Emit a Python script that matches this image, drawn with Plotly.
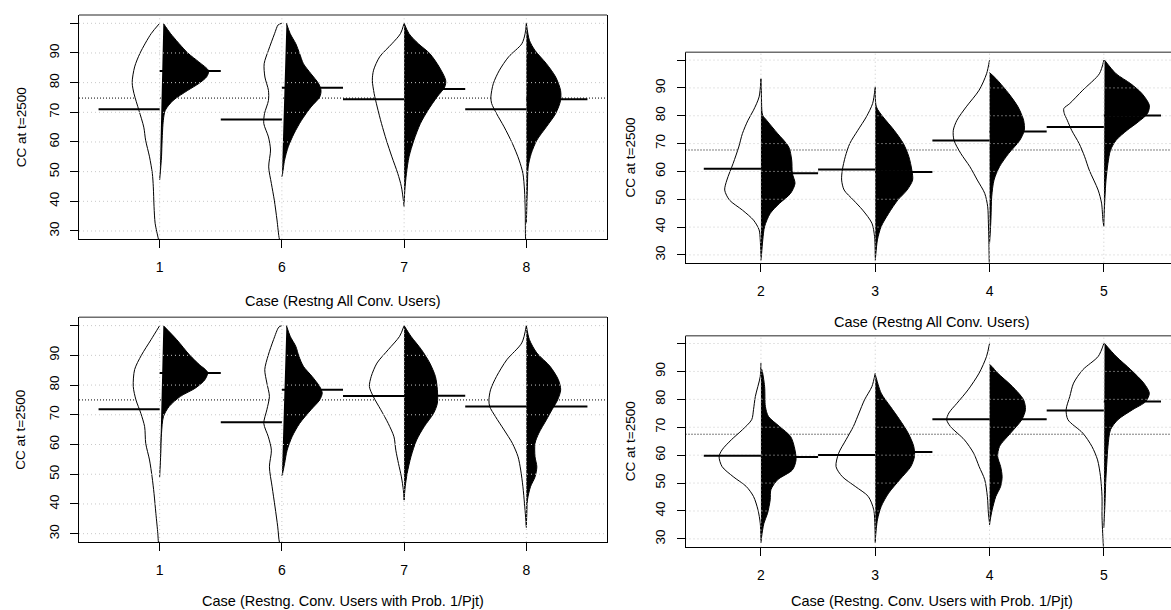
import plotly.graph_objects as go

W, H = 1171, 610

# ---------------- data ----------------
tl_cases = ["1", "6", "7", "8"]
tr_cases = ["2", "3", "4", "5"]
bl_cases = ["1", "6", "7", "8"]
br_cases = ["2", "3", "4", "5"]
y_ticks = [30, 40, 50, 60, 70, 80, 90, 100]
y_ticklabels = ["30", "40", "50", "60", "70", "80", "90", ""]
top_xtitle = "Case (Restng All Conv. Users)"
bottom_xtitle = "Case (Restng. Conv. Users with Prob. 1/Pjt)"
ytitle = "CC at t=2500"

# top-left panel: left (open) half-beans
tl_open_v = [
    [100, 96.5, 90, 85.3, 80, 76.3, 70.7, 65, 60.6, 55, 49.4, 44.9, 38.2, 32.6, 27.2, 25],
    [100, 99.5, 96.5, 90.9, 86.4, 81.9, 77.4, 74, 69.6, 66.2, 61.7, 57.3, 51.6, 46, 40.4, 33.7, 27.2, 25],
    [100, 96.5, 93.1, 88.7, 84.2, 80.8, 76.3, 71.8, 66.2, 60.6, 55, 49.4, 44.9, 38.2],
    [100, 96.5, 93.1, 88.7, 84.2, 79.7, 75.2, 73, 69.6, 65.1, 59.5, 53.9, 49.4, 43.8, 37.1, 27.2, 25],
]
tl_open_w = [
    [0, 0.07, 0.16, 0.205, 0.225, 0.21, 0.17, 0.13, 0.115, 0.083, 0.06, 0.052, 0.046, 0.037, 0.01, 0],
    [0, 0.03, 0.06, 0.11, 0.145, 0.139, 0.11, 0.11, 0.142, 0.148, 0.11, 0.093, 0.108, 0.086, 0.062, 0.04, 0.02, 0],
    [0, 0.03, 0.1, 0.2, 0.25, 0.26, 0.245, 0.22, 0.185, 0.145, 0.1, 0.052, 0.022, 0],
    [0, 0.01, 0.037, 0.145, 0.22, 0.27, 0.29, 0.284, 0.244, 0.182, 0.114, 0.059, 0.028, 0.015, 0.009, 0.006, 0],
]
tl_fill_v = [
    [100, 96.5, 90, 87, 84, 82, 79.7, 77.4, 74, 70.7, 67.3, 60.6, 55, 47.2],
    [100, 96.5, 93.1, 89.8, 86.4, 83, 79.7, 77.4, 75.2, 71.8, 67.3, 62.9, 58.4, 53.9, 49.4, 48.3],
    [100, 96.5, 93.1, 89.8, 85.3, 80.8, 78.6, 75.2, 70.7, 66.2, 60.6, 55, 49.4, 43.8, 39.3],
    [100, 94.3, 90.9, 86.4, 81.9, 77.4, 74, 69.6, 65.1, 60.6, 56.1, 51.6, 44.9, 38.2, 32.6],
]
tl_fill_w = [
    [0.03, 0.09, 0.23, 0.32, 0.40, 0.385, 0.32, 0.23, 0.11, 0.046, 0.03, 0.02, 0.015, 0],
    [0.037, 0.068, 0.114, 0.145, 0.176, 0.238, 0.3, 0.32, 0.31, 0.238, 0.16, 0.1, 0.052, 0.022, 0.006, 0],
    [0, 0.04, 0.117, 0.21, 0.287, 0.34, 0.333, 0.27, 0.195, 0.133, 0.08, 0.04, 0.019, 0.006, 0],
    [0, 0.025, 0.07, 0.164, 0.24, 0.28, 0.28, 0.24, 0.164, 0.086, 0.04, 0.015, 0.009, 0.004, 0],
]
tl_open_mean = [71.0, 67.6, 74.4, 71.0]
tl_fill_mean = [83.9, 78.3, 77.9, 74.4]
tl_overall = 74.8

# bottom-left panel
bl_open_v = [
    [100, 95.3, 90, 85.2, 79.5, 75, 70.5, 66, 60.4, 54.8, 49.1, 43.5, 36.8, 30, 27.1, 25],
    [100, 99.5, 95.3, 90, 85.2, 80.7, 76.2, 71.7, 67.1, 62.6, 58.1, 52.5, 45.8, 39, 32.3, 27.1, 25],
    [100, 96.4, 91.9, 87.4, 82.9, 79.5, 76.2, 71.7, 67.1, 62.6, 58.1, 53.6, 49.1, 44.6, 41.3],
    [100, 94.2, 88.5, 82.9, 78.4, 75, 72.8, 69.4, 64.9, 60.4, 55.9, 51.4, 45.8, 40.1, 35.6, 32],
]
bl_open_w = [
    [0, 0.07, 0.15, 0.205, 0.216, 0.194, 0.154, 0.123, 0.114, 0.083, 0.062, 0.046, 0.031, 0.015, 0.01, 0],
    [0, 0.025, 0.068, 0.112, 0.14, 0.123, 0.102, 0.123, 0.148, 0.111, 0.086, 0.102, 0.08, 0.056, 0.034, 0.02, 0],
    [0, 0.037, 0.13, 0.222, 0.269, 0.284, 0.253, 0.191, 0.13, 0.083, 0.068, 0.046, 0.022, 0.006, 0],
    [0, 0.037, 0.16, 0.244, 0.293, 0.306, 0.3, 0.253, 0.182, 0.114, 0.068, 0.046, 0.028, 0.015, 0.006, 0],
]
bl_fill_v = [
    [100, 95.3, 90, 86.9, 84.3, 81.8, 79, 76.2, 72.8, 69.4, 63.8, 57, 49.1],
    [100, 96.4, 93, 89.7, 86.3, 82.9, 79.5, 77.3, 75, 71.7, 67.1, 62.6, 58.1, 53.6, 50.3, 49.5],
    [100, 96.4, 91.9, 87.4, 82.9, 78.4, 73.9, 70.5, 66, 61.5, 55.9, 50.3, 45.8, 41.3],
    [100, 95.3, 90.8, 86.3, 81.8, 78.4, 75, 71.7, 68.3, 63.8, 60.4, 55.9, 52.5, 49.1, 45.8, 41.3, 36.8, 32.8],
]
bl_fill_w = [
    [0.03, 0.139, 0.247, 0.324, 0.392, 0.37, 0.293, 0.17, 0.077, 0.031, 0.015, 0.009, 0],
    [0.037, 0.068, 0.114, 0.139, 0.176, 0.247, 0.309, 0.33, 0.309, 0.238, 0.145, 0.083, 0.043, 0.022, 0.006, 0],
    [0, 0.056, 0.142, 0.21, 0.256, 0.272, 0.272, 0.241, 0.164, 0.102, 0.056, 0.025, 0.009, 0],
    [0, 0.025, 0.086, 0.194, 0.262, 0.281, 0.256, 0.21, 0.164, 0.102, 0.071, 0.071, 0.086, 0.071, 0.034, 0.009, 0.004, 0],
]
bl_open_mean = [71.9, 67.5, 76.3, 72.8]
bl_fill_mean = [84.1, 78.4, 76.4, 72.8]
bl_overall = 75.0

# top-right panel
tr_open_v = [
    [93.3, 86.8, 82, 78.4, 73.6, 68.8, 62.9, 56.9, 53.3, 49.7, 46.1, 42.5, 39, 35.4, 29.4],
    [90.4, 84.4, 79.6, 74.8, 70, 65.3, 60.5, 56.9, 53.3, 49.7, 46.1, 41.4, 36.6, 29],
    [100, 95.1, 89.2, 83.2, 78.4, 74.8, 71.2, 66.5, 61.7, 56.9, 52.1, 47.3, 41.4, 35.4, 28.2, 25],
    [100, 95.1, 89.2, 84.4, 82.6, 80.8, 78.4, 74.8, 70, 65.3, 60.5, 53.3, 48.6, 42.5, 40.2],
]
tr_open_w = [
    [0, 0.016, 0.065, 0.113, 0.162, 0.194, 0.243, 0.298, 0.317, 0.275, 0.162, 0.065, 0.016, 0.006, 0],
    [0, 0.023, 0.078, 0.152, 0.223, 0.262, 0.288, 0.294, 0.272, 0.191, 0.11, 0.029, 0.006, 0],
    [0, 0.026, 0.091, 0.204, 0.285, 0.317, 0.311, 0.252, 0.172, 0.107, 0.042, 0.016, 0.01, 0.006, 0.003, 0],
    [0, 0.039, 0.184, 0.298, 0.35, 0.346, 0.32, 0.282, 0.216, 0.168, 0.128, 0.05, 0.02, 0.008, 0],
]
tr_fill_v = [
    [93.3, 88, 82, 80.2, 78.4, 73.6, 68.8, 64.1, 59.3, 55.7, 52.1, 48.5, 44.9, 40.2, 35.4, 30.6, 28],
    [90, 83.2, 79.6, 74.8, 70, 65.3, 60.5, 56.9, 53.3, 49.7, 44.9, 40.2, 35.4, 30.6, 28],
    [95.5, 94, 92.7, 87.96, 83.2, 78.4, 74.8, 71.2, 66.5, 61.7, 56.9, 50.9, 43.7, 37.8, 34.2],
    [100, 95.1, 91.5, 88, 83.8, 80.8, 77.8, 74.8, 71.2, 67.6, 62.9, 56.9, 50.9, 44.9, 40.5],
]
tr_fill_w = [
    [0, 0.004, 0.008, 0.015, 0.049, 0.146, 0.243, 0.269, 0.275, 0.298, 0.259, 0.162, 0.081, 0.032, 0.016, 0.006, 0],
    [0, 0.01, 0.068, 0.165, 0.246, 0.294, 0.32, 0.327, 0.278, 0.197, 0.117, 0.052, 0.019, 0.006, 0],
    [0, 0.04, 0.071, 0.168, 0.249, 0.298, 0.304, 0.265, 0.168, 0.087, 0.039, 0.019, 0.013, 0.006, 0],
    [0.006, 0.107, 0.236, 0.333, 0.398, 0.382, 0.301, 0.204, 0.107, 0.058, 0.036, 0.019, 0.01, 0.003, 0],
]
tr_open_mean = [61.0, 60.7, 71.1, 76.0]
tr_fill_mean = [59.3, 59.8, 74.3, 80.1]
tr_overall = 67.7

# bottom-right panel
br_open_v = [
    [93, 88.2, 81, 76.3, 72.7, 69.1, 65.5, 61.9, 59.5, 55.9, 52.3, 48.8, 45.2, 40.4, 35.6, 29.5],
    [89.4, 84.6, 79.8, 75.1, 70.3, 65.5, 60.7, 55.9, 52.3, 48.8, 45.2, 40.4, 34.4, 29],
    [100, 95.4, 89.4, 83.4, 78.6, 75.1, 72.7, 70.3, 65.5, 60.7, 55.9, 51.2, 45.2, 39.2, 35.6],
    [100, 95.4, 90.6, 85.8, 81, 76.3, 72.7, 67.9, 63.1, 58.3, 52.3, 45.2, 38, 32, 27.3, 25],
]
br_open_w = [
    [0, 0.006, 0.049, 0.065, 0.081, 0.162, 0.259, 0.34, 0.366, 0.34, 0.243, 0.129, 0.065, 0.026, 0.006, 0],
    [0, 0.029, 0.094, 0.142, 0.191, 0.256, 0.32, 0.343, 0.288, 0.175, 0.061, 0.013, 0.003, 0],
    [0, 0.026, 0.091, 0.188, 0.285, 0.356, 0.375, 0.343, 0.22, 0.139, 0.091, 0.042, 0.019, 0.01, 0],
    [0, 0.049, 0.184, 0.265, 0.298, 0.33, 0.314, 0.184, 0.104, 0.055, 0.029, 0.016, 0.016, 0.01, 0.004, 0],
]
br_fill_v = [
    [91, 90.6, 84.6, 77.4, 73.9, 70.3, 66.7, 63.1, 58.3, 54.7, 51.2, 47.6, 44, 39.2, 35.6, 30.8, 28.5],
    [89, 88.2, 82.2, 77.4, 72.7, 67.9, 63.1, 59.5, 55.9, 51.2, 46.4, 41.6, 36.8, 30.8, 28.5],
    [92.5, 91.8, 89.4, 84.6, 79.8, 76.3, 72.7, 67.9, 63.1, 59.5, 55.9, 52.3, 48.8, 45.2, 40.4, 36.8, 35],
    [100, 95.4, 90.6, 85.8, 82.2, 79.2, 76.3, 72.7, 69.1, 63.1, 57.1, 50, 42.8, 36.8, 34],
]
br_fill_w = [
    [0, 0.008, 0.032, 0.039, 0.065, 0.162, 0.259, 0.291, 0.307, 0.275, 0.146, 0.087, 0.081, 0.058, 0.026, 0.006, 0],
    [0, 0.005, 0.052, 0.133, 0.214, 0.288, 0.337, 0.343, 0.311, 0.214, 0.117, 0.052, 0.019, 0.003, 0],
    [0, 0.02, 0.071, 0.2, 0.298, 0.314, 0.282, 0.184, 0.087, 0.071, 0.097, 0.11, 0.097, 0.055, 0.023, 0.006, 0],
    [0.006, 0.107, 0.236, 0.35, 0.398, 0.366, 0.252, 0.123, 0.058, 0.036, 0.026, 0.016, 0.01, 0.003, 0],
]
br_open_mean = [59.8, 60.1, 72.9, 76.0]
br_fill_mean = [59.3, 61.1, 72.9, 79.2]
br_overall = 67.5

# ---------------- layout geometry (pixels) ----------------
Y_RANGE = [27.2, 102.8]
LEFT_XR = [0.34, 4.66]
RIGHT_XR = [0.34, 0.34 + (1171 - 685.5) / 114.3]

panels = [
    dict(s="", x0=79, x1=607, y0=15, y1=239.3, xr=LEFT_XR, box=True, cases=tl_cases,
         ov=tl_open_v, ow=tl_open_w, fv=tl_fill_v, fw=tl_fill_w,
         om=tl_open_mean, fm=tl_fill_mean, overall=tl_overall, xt=top_xtitle, ty=301, yt_x=21),
    dict(s="2", x0=685.5, x1=1171, y0=52.3, y1=262.7, xr=RIGHT_XR, box=False, cases=tr_cases,
         ov=tr_open_v, ow=tr_open_w, fv=tr_fill_v, fw=tr_fill_w,
         om=tr_open_mean, fm=tr_fill_mean, overall=tr_overall, xt=top_xtitle, ty=321.5, yt_x=630),
    dict(s="3", x0=79, x1=607, y0=317.3, y1=542, xr=LEFT_XR, box=True, cases=bl_cases,
         ov=bl_open_v, ow=bl_open_w, fv=bl_fill_v, fw=bl_fill_w,
         om=bl_open_mean, fm=bl_fill_mean, overall=bl_overall, xt=bottom_xtitle, ty=601, yt_x=21),
    dict(s="4", x0=685.5, x1=1171, y0=335.7, y1=546.7, xr=RIGHT_XR, box=False, cases=br_cases,
         ov=br_open_v, ow=br_open_w, fv=br_fill_v, fw=br_fill_w,
         om=br_open_mean, fm=br_fill_mean, overall=br_overall, xt=bottom_xtitle, ty=601, yt_x=630),
]

FONT = "Liberation Sans, Arial, Helvetica, sans-serif"
fig = go.Figure()
annotations = []
shapes = []
layout_axes = {}

for p in panels:
    xa, ya = "x" + p["s"], "y" + p["s"]
    xr = p["xr"]
    ppu = (p["x1"] - p["x0"]) / (xr[1] - xr[0])
    # overall mean line (dotted)
    fig.add_trace(go.Scatter(x=[xr[0], xr[1]], y=[p["overall"]] * 2, mode="lines",
                             line=dict(color="black", width=1, dash="1px,2px"),
                             xaxis=xa, yaxis=ya, hoverinfo="skip"))
    for i, c in enumerate(p["cases"]):
        pos = i + 1
        fig.add_trace(go.Scatter(x=[pos - w for w in p["ow"][i]], y=p["ov"][i], mode="lines",
                                 fill="toself", fillcolor="white",
                                 line=dict(color="black", width=1, shape="spline", smoothing=0.8),
                                 xaxis=xa, yaxis=ya, hoverinfo="skip"))
        fig.add_trace(go.Scatter(x=[pos + w for w in p["fw"][i]], y=p["fv"][i], mode="lines",
                                 fill="toself", fillcolor="black",
                                 line=dict(color="black", width=1, shape="spline", smoothing=0.8),
                                 xaxis=xa, yaxis=ya, hoverinfo="skip"))
    # grid on top (dotted light grey)
    gx, gy = [], []
    for t in y_ticks:
        gx += [xr[0], xr[1], None]
        gy += [t, t, None]
    for i in range(len(p["cases"])):
        gx += [i + 1, i + 1, None]
        gy += [Y_RANGE[0], Y_RANGE[1], None]
    fig.add_trace(go.Scatter(x=gx, y=gy, mode="lines",
                             line=dict(color="#c8c8c8", width=1, dash="1px,3px"),
                             xaxis=xa, yaxis=ya, hoverinfo="skip"))
    # group mean lines
    for i in range(len(p["cases"])):
        pos = i + 1
        fig.add_trace(go.Scatter(x=[pos - 0.5, pos], y=[p["om"][i]] * 2, mode="lines",
                                 line=dict(color="black", width=2), xaxis=xa, yaxis=ya, hoverinfo="skip"))
        fig.add_trace(go.Scatter(x=[pos, pos + 0.5], y=[p["fm"][i]] * 2, mode="lines",
                                 line=dict(color="black", width=2), xaxis=xa, yaxis=ya, hoverinfo="skip"))

    # grey top border of the frame
    shapes.append(dict(type="line", xref="paper", yref="paper",
                       x0=p["x0"] / W, x1=p["x1"] / W, y0=1 - p["y0"] / H, y1=1 - p["y0"] / H,
                       line=dict(color="#6e6e6e", width=1.5), layer="above"))

    xkey = "xaxis" + p["s"]
    ykey = "yaxis" + p["s"]
    layout_axes[xkey] = dict(
        domain=[p["x0"] / W, p["x1"] / W], range=xr, anchor=ya,
        tickmode="array", tickvals=[1, 2, 3, 4], ticktext=p["cases"],
        ticks="outside", ticklen=8, tickcolor="black", tickwidth=1,
        ticklabelstandoff=7,
        showline=True, linecolor="black", linewidth=1, mirror=False,
        showgrid=False, zeroline=False, fixedrange=True,
        tickfont=dict(family=FONT, size=14, color="black"),
    )
    layout_axes[ykey] = dict(
        domain=[1 - p["y1"] / H, 1 - p["y0"] / H], range=Y_RANGE, anchor=xa,
        tickmode="array", tickvals=y_ticks, ticktext=y_ticklabels, tickangle=-90,
        ticks="outside", ticklen=8, tickcolor="black", tickwidth=1,
        ticklabelstandoff=6,
        showline=True, linecolor="black", linewidth=1, mirror=p["box"],
        showgrid=False, zeroline=False, fixedrange=True,
        tickfont=dict(family=FONT, size=13.5, color="black"),
    )
    annotations.append(dict(text=p["xt"], xref="paper", yref="paper",
                            x=(p["x0"] + (2.5 - xr[0]) * ppu) / W,
                            y=1 - p["ty"] / H, xanchor="center", yanchor="middle", showarrow=False,
                            font=dict(family=FONT, size=14.5, color="black")))
    annotations.append(dict(text=ytitle, xref="paper", yref="paper",
                            x=p["yt_x"] / W, y=1 - (p["y0"] + p["y1"]) / 2 / H, textangle=-90,
                            xanchor="center", yanchor="middle", showarrow=False,
                            font=dict(family=FONT, size=13.5, color="black")))

fig.update_layout(
    width=W, height=H, margin=dict(l=0, r=0, t=0, b=0),
    paper_bgcolor="white", plot_bgcolor="white", showlegend=False,
    annotations=annotations, shapes=shapes, **layout_axes,
)

fig.write_html("out.html", config={"displayModeBar": False},
               post_script="document.body.style.margin='0';document.body.style.overflow='hidden';")
